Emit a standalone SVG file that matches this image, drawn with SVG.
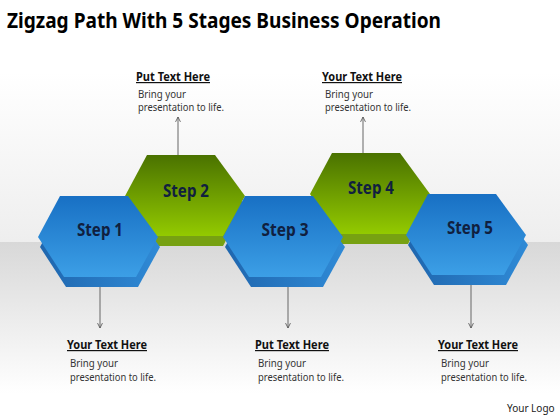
<svg xmlns="http://www.w3.org/2000/svg" width="560" height="420" viewBox="0 0 560 420">
<defs>
  <linearGradient id="bgTop" x1="0" y1="0" x2="0" y2="1">
    <stop offset="0" stop-color="#ffffff"/>
    <stop offset="0.3" stop-color="#ffffff"/>
    <stop offset="1" stop-color="#eeeeee"/>
  </linearGradient>
  <linearGradient id="bgBot" x1="0" y1="0" x2="0" y2="1">
    <stop offset="0" stop-color="#d8d8d8"/>
    <stop offset="0.85" stop-color="#ffffff"/>
    <stop offset="1" stop-color="#ffffff"/>
  </linearGradient>
  <linearGradient id="blueFace" x1="0" y1="0" x2="0" y2="1">
    <stop offset="0" stop-color="#1870c4"/>
    <stop offset="1" stop-color="#3c9fe6"/>
  </linearGradient>
  <linearGradient id="blueSide" x1="0" y1="0" x2="1" y2="0">
    <stop offset="0" stop-color="#1f66ae"/>
    <stop offset="1" stop-color="#2f8ad6"/>
  </linearGradient>
  <linearGradient id="greenFace" x1="0" y1="0" x2="0" y2="1">
    <stop offset="0" stop-color="#4a7200"/>
    <stop offset="1" stop-color="#93ca00"/>
  </linearGradient>
  <path id="hex" d="M-60,0 L-38,-41 L30,-41 L60,0 L38,40 L-34,40 Z"/>
  <marker id="arr" viewBox="0 0 10 10" refX="9" refY="5" markerWidth="7" markerHeight="7" orient="auto" markerUnits="userSpaceOnUse">
    <path d="M2,1.5 L9,5 L2,8.5" fill="none" stroke="#555555" stroke-width="1.2"/>
  </marker>
  <style>
    .title{font-family:"Noto Sans","Open Sans",sans-serif;font-weight:bold;font-size:22px;fill:#000}
    .head{font-family:"Noto Sans","Open Sans",sans-serif;font-weight:bold;font-size:12px;fill:#111;text-decoration:underline}
    .body{font-family:"Noto Sans","Open Sans",sans-serif;font-size:10.5px;fill:#333}
    .step{font-family:"Noto Sans","Open Sans",sans-serif;font-weight:bold;font-size:17px;fill:#10203f;text-anchor:middle}
    .logo{font-family:"Noto Sans","Open Sans",sans-serif;font-size:10px;fill:#222}
    .conn line{stroke:#666666;stroke-width:1}
  </style>
</defs>

<rect x="0" y="0" width="560" height="242" fill="url(#bgTop)"/>
<rect x="0" y="242" width="560" height="178" fill="url(#bgBot)"/>

<text class="title" x="7" y="28" textLength="434" lengthAdjust="spacingAndGlyphs">Zigzag Path With 5 Stages Business Operation</text>

<g id="connectors" class="conn">
  <line x1="178" y1="155" x2="178" y2="117" marker-end="url(#arr)"/>
  <line x1="363" y1="153" x2="363" y2="117" marker-end="url(#arr)"/>
  <line x1="100" y1="287" x2="100" y2="328" marker-end="url(#arr)"/>
  <line x1="288" y1="287" x2="288" y2="328" marker-end="url(#arr)"/>
  <line x1="471" y1="285" x2="471" y2="328" marker-end="url(#arr)"/>
</g>

<g id="step2">
  <use href="#hex" transform="translate(185,206)" fill="#77a112"/>
  <use href="#hex" transform="translate(185,196)" fill="url(#greenFace)"/>
  <text class="step" x="186" y="197" textLength="46" lengthAdjust="spacingAndGlyphs">Step 2</text>
</g>
<g id="step4">
  <use href="#hex" transform="translate(370,204)" fill="#77a112"/>
  <use href="#hex" transform="translate(370,194)" fill="url(#greenFace)"/>
  <text class="step" x="371" y="194" textLength="46" lengthAdjust="spacingAndGlyphs">Step 4</text>
</g>
<g id="step1">
  <use href="#hex" transform="translate(100,247)" fill="url(#blueSide)"/>
  <use href="#hex" transform="translate(98,237)" fill="url(#blueFace)"/>
  <text class="step" x="100" y="236" textLength="46" lengthAdjust="spacingAndGlyphs">Step 1</text>
</g>
<g id="step3">
  <use href="#hex" transform="translate(285,247)" fill="url(#blueSide)"/>
  <use href="#hex" transform="translate(283,237)" fill="url(#blueFace)"/>
  <text class="step" x="285" y="236" textLength="47" lengthAdjust="spacingAndGlyphs">Step 3</text>
</g>
<g id="step5">
  <use href="#hex" transform="translate(468,245)" fill="url(#blueSide)"/>
  <use href="#hex" transform="translate(466,235)" fill="url(#blueFace)"/>
  <text class="step" x="470" y="234" textLength="46" lengthAdjust="spacingAndGlyphs">Step 5</text>
</g>

<g id="label-top-1">
  <text class="head" x="136" y="81" textLength="74" lengthAdjust="spacingAndGlyphs">Put Text Here</text>
  <text class="body" x="138" y="98" textLength="48" lengthAdjust="spacingAndGlyphs">Bring your</text>
  <text class="body" x="138" y="111" textLength="86" lengthAdjust="spacingAndGlyphs">presentation to life.</text>
</g>
<g id="label-top-2">
  <text class="head" x="322" y="81" textLength="80" lengthAdjust="spacingAndGlyphs">Your Text Here</text>
  <text class="body" x="325" y="98" textLength="48" lengthAdjust="spacingAndGlyphs">Bring your</text>
  <text class="body" x="325" y="111" textLength="86" lengthAdjust="spacingAndGlyphs">presentation to life.</text>
</g>
<g id="label-bot-1">
  <text class="head" x="67" y="349" textLength="80" lengthAdjust="spacingAndGlyphs">Your Text Here</text>
  <text class="body" x="70" y="367" textLength="48" lengthAdjust="spacingAndGlyphs">Bring your</text>
  <text class="body" x="70" y="381" textLength="86" lengthAdjust="spacingAndGlyphs">presentation to life.</text>
</g>
<g id="label-bot-2">
  <text class="head" x="255" y="349" textLength="74" lengthAdjust="spacingAndGlyphs">Put Text Here</text>
  <text class="body" x="258" y="367" textLength="48" lengthAdjust="spacingAndGlyphs">Bring your</text>
  <text class="body" x="258" y="381" textLength="86" lengthAdjust="spacingAndGlyphs">presentation to life.</text>
</g>
<g id="label-bot-3">
  <text class="head" x="438" y="349" textLength="80" lengthAdjust="spacingAndGlyphs">Your Text Here</text>
  <text class="body" x="441" y="367" textLength="48" lengthAdjust="spacingAndGlyphs">Bring your</text>
  <text class="body" x="441" y="381" textLength="86" lengthAdjust="spacingAndGlyphs">presentation to life.</text>
</g>
<text class="logo" x="507" y="412">Your Logo</text>
</svg>
